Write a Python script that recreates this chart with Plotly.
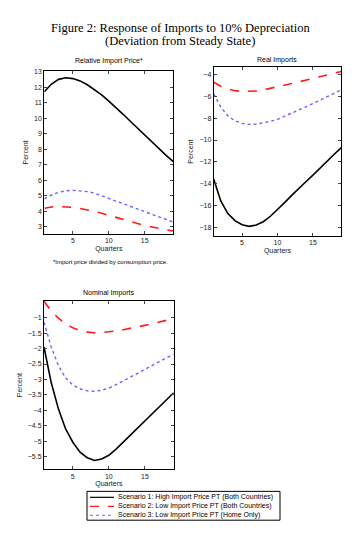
import plotly.graph_objects as go

quarters = list(range(1, 20))

# Relative Import Price*
rip_s1 = [11.7, 12.2, 12.5, 12.6, 12.55, 12.4, 12.15, 11.85, 11.5, 11.1, 10.7, 10.25, 9.8, 9.35, 8.9, 8.45, 8.0, 7.6, 7.2]
rip_s2 = [4.2, 4.28, 4.3, 4.29, 4.25, 4.18, 4.1, 4.0, 3.87, 3.73, 3.6, 3.47, 3.34, 3.21, 3.09, 2.98, 2.88, 2.8, 2.73]
rip_s3 = [4.8, 5.05, 5.22, 5.32, 5.35, 5.33, 5.27, 5.17, 5.0, 4.8, 4.63, 4.45, 4.28, 4.1, 3.93, 3.77, 3.6, 3.45, 3.3]

# Real Imports
ri_s1 = [-13.55, -15.55, -16.7, -17.35, -17.72, -17.87, -17.75, -17.45, -16.95, -16.35, -15.7, -15.05, -14.4, -13.8, -13.2, -12.55, -11.95, -11.3, -10.7]
ri_s2 = [-4.73, -5.1, -5.35, -5.5, -5.57, -5.58, -5.53, -5.43, -5.3, -5.15, -5.0, -4.85, -4.7, -4.53, -4.37, -4.2, -4.05, -3.9, -3.75]
ri_s3 = [-5.8, -7.0, -7.8, -8.25, -8.48, -8.57, -8.55, -8.45, -8.3, -8.12, -7.85, -7.55, -7.25, -6.97, -6.68, -6.35, -6.05, -5.72, -5.42]

# Nominal Imports
ni_s1 = [-1.95, -3.1, -3.95, -4.6, -5.03, -5.35, -5.53, -5.62, -5.57, -5.45, -5.25, -5.02, -4.78, -4.55, -4.32, -4.1, -3.87, -3.65, -3.43]
ni_s2 = [-0.47, -0.78, -1.02, -1.2, -1.33, -1.42, -1.47, -1.49, -1.48, -1.46, -1.43, -1.39, -1.35, -1.3, -1.25, -1.2, -1.14, -1.08, -1.03]
ni_s3 = [-1.15, -1.95, -2.55, -2.95, -3.18, -3.3, -3.37, -3.38, -3.35, -3.28, -3.17, -3.05, -2.93, -2.8, -2.68, -2.55, -2.42, -2.3, -2.18]

names = ["Scenario 1: High Import Price PT (Both Countries)",
         "Scenario 2: Low Import Price PT (Both Countries)",
         "Scenario 3: Low Import Price PT (Home Only)"]

x_ticks = [5, 10, 15]
rip_ticks = [3, 4, 5, 6, 7, 8, 9, 10, 11, 12, 13]
ri_ticks = [-18, -16, -14, -12, -10, -8, -6, -4]
ni_ticks = [-5.5, -5, -4.5, -4, -3.5, -3, -2.5, -2, -1.5, -1]

W, H = 355, 549
styles = [dict(color="black", width=1.6, dash="solid"),
          dict(color="#ff1a1a", width=1.6, dash="dash"),
          dict(color="#6464ff", width=1.4, dash="dot")]

fig = go.Figure()
panels = [
    ("x", "y", [rip_s1, rip_s2, rip_s3]),
    ("x2", "y2", [ri_s1, ri_s2, ri_s3]),
    ("x3", "y3", [ni_s1, ni_s2, ni_s3]),
]
for pi, (xa, ya, series) in enumerate(panels):
    for si, vals in enumerate(series):
        fig.add_trace(go.Scatter(x=quarters, y=vals, mode="lines", xaxis=xa, yaxis=ya,
                                 line=styles[si], name=names[si], showlegend=False))

sans = "Liberation Sans, Arial, sans-serif"
serif = "Liberation Serif, DejaVu Serif, serif"
tickfont = dict(family=sans, size=7, color="#222")
def xax(domain, anchor):
    return dict(domain=domain, range=[1, 19], tickvals=x_ticks, ticks="inside", ticklen=3,
                showline=True, linecolor="black", linewidth=1, mirror="ticks",
                showgrid=False, zeroline=False, tickfont=tickfont, anchor=anchor,
                title=dict(text="Quarters", font=tickfont, standoff=2))
def yax(domain, rng, tv, anchor):
    return dict(domain=domain, range=rng, tickvals=tv, ticks="inside", ticklen=3,
                showline=True, linecolor="black", linewidth=1, mirror="ticks",
                showgrid=False, zeroline=False, tickfont=tickfont, anchor=anchor,
                title=dict(text="Percent", font=tickfont, standoff=4))

fig.update_layout(
    width=W, height=H,
    margin=dict(l=0, r=0, t=0, b=0),
    paper_bgcolor="white", plot_bgcolor="white",
    xaxis=xax([0.1023, 0.4656], "y"),
    yaxis=yax([0.5914, 0.8907], [2.53, 13.06], rip_ticks, "x"),
    xaxis2=xax([0.5794, 0.9389], "y2"),
    yaxis2=yax([0.5883, 0.8967], [-18.73, -3.38], ri_ticks, "x2"),
    xaxis3=xax([0.1014, 0.4668], "y3"),
    yaxis3=yax([0.1603, 0.469], [-5.91, -0.46], ni_ticks, "x3"),
    showlegend=False,
)

ann = [
    dict(text="Figure 2: Response of Imports to 10% Depreciation", x=0.485, y=1 - 17/H, font=dict(family=serif, size=12.5, color="black")),
    dict(text="(Deviation from Steady State)", x=0.485, y=1 - 30/H, font=dict(family=serif, size=12.5, color="black")),
    dict(text="Relative Import Price*", x=0.284, y=1 - 50/H, font=dict(family=sans, size=7, color="black")),
    dict(text="Real Imports", x=0.759, y=1 - 49/H, font=dict(family=sans, size=7, color="black")),
    dict(text="Nominal Imports", x=0.284, y=1 - 284/H, font=dict(family=sans, size=7, color="black")),
    dict(text="*Import price divided by consumption price.", x=0.288, y=1 - 252/H, font=dict(family=sans, size=6, color="black")),
]
for a in ann:
    fig.add_annotation(xref="paper", yref="paper", showarrow=False, xanchor="center", yanchor="middle", **a)

# Legend box (drawn as a key, not data)
lx0, lx1, ly0, ly1 = 79, 272, 483, 512
fig.add_shape(type="rect", xref="paper", yref="paper", x0=lx0/W, x1=lx1/W, y0=1-ly1/H, y1=1-ly0/H,
              line=dict(color="black", width=1), fillcolor="white", layer="above")
rows = [489, 498, 507]
for i, yy in enumerate(rows):
    fig.add_shape(type="line", xref="paper", yref="paper", x0=82/W, x1=106/W, y0=1-yy/H, y1=1-yy/H,
                  line=dict(color=styles[i]["color"], width=1.2, dash=styles[i]["dash"]), layer="above")
    fig.add_annotation(xref="paper", yref="paper", x=108/W, y=1-yy/H, text=names[i], showarrow=False,
                       xanchor="left", yanchor="middle", font=dict(family=sans, size=7, color="black"))

fig.write_html("out.html")
